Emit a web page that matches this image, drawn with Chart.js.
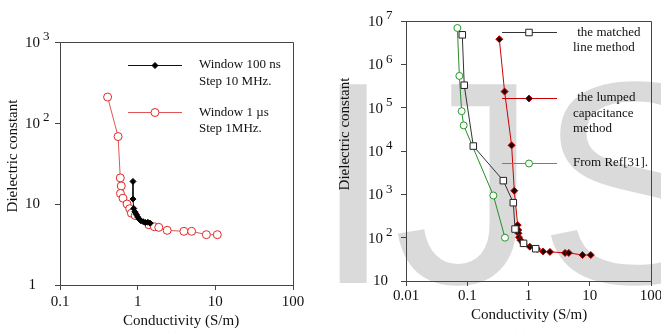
<!DOCTYPE html>
<html lang="en">
<head>
    <meta charset="UTF-8">
    <title>Dielectric constant vs conductivity</title>
    <script src="https://cdn.jsdelivr.net/npm/chart.js@4/dist/chart.umd.min.js"></script>
    <style>
        html, body { margin: 0; padding: 0; background: #fff; overflow: hidden; }
        #wrap { position: relative; width: 661px; height: 333px; }
        canvas { position: absolute; top: 0; }
        #chartA { left: 0; }
        #chartB { left: 330px; }
    </style>
</head>
<body>
<div id="wrap">
    <canvas id="chartA" width="330" height="333"></canvas>
    <canvas id="chartB" width="331" height="333"></canvas>
</div>
<script>
    // (a) left panel
    let aTicksX = [0.1, 1, 10, 100];
    let aTickLabelsX = ['0.1', '1', '10', '100'];
    let aTicksY = [1, 10, 100, 1000];

    let aWin1usX = [0.41, 0.56, 0.597, 0.615, 0.60, 0.647, 0.73, 0.79, 0.83, 0.93, 1.39, 1.64, 1.87, 2.4, 3.94, 4.95, 7.67, 10.6];
    let aWin1usY = [209, 68, 21, 16.7, 13.5, 11.8, 10, 8.75, 7.7, 7.2, 5.55, 5.24, 5.15, 4.73, 4.6, 4.6, 4.18, 4.18];

    let aWin100nsX = [0.87, 0.87, 0.89, 0.92, 0.96, 1.0, 1.05, 1.1, 1.18, 1.26, 1.35, 1.45];
    let aWin100nsY = [19, 11.5, 8.8, 8.0, 7.4, 6.9, 6.5, 6.2, 6.05, 5.9, 5.95, 5.8];

    // (b) right panel
    let bTicksX = [0.01, 0.1, 1, 10, 100];
    let bTickLabelsX = ['0.01', '0.1', '1', '10', '100'];
    let bTicksY = [10, 100, 1e3, 1e4, 1e5, 1e6, 1e7];

    let bMatchedX = [0.083, 0.0893, 0.1256, 0.388, 0.565, 0.603, 0.83, 1.31];
    let bMatchedY = [4.8e6, 3.3e5, 1.3e4, 2070, 641, 158, 74, 55.6];

    let bLumpedX = [0.334, 0.407, 0.53, 0.586, 0.666, 0.68, 0.685, 0.70, 0.735, 0.82, 1.05, 1.38, 1.73, 2.24, 3.96, 4.55, 7.6, 10.4];
    let bLumpedY = [3.8e6, 2.35e5, 1.35e4, 1210, 195, 150, 126, 102, 88, 74, 62, 55, 48, 47, 44.5, 44.5, 39.8, 39.8];

    let bRef31X = [0.069, 0.0743, 0.081, 0.0875, 0.267, 0.413];
    let bRef31Y = [6.9e6, 5.4e5, 8.3e4, 3.9e4, 940, 100];

    let pts = (xs, ys) => xs.map((x, i) => ({x: x, y: ys[i]}));
    let serif = '"Liberation Serif", "Times New Roman", serif';
    let axisColor = '#444';

    // frame, tick labels, titles, legend
    let panelDeco = {
        id: 'panelDeco',
        beforeDraw(chart, args, o) {
            if (!o.watermark) return;
            let ctx = chart.ctx;
            ctx.save();
            ctx.fillStyle = '#dadada';
            ctx.font = '289px "Liberation Sans", Arial, sans-serif';
            ctx.textBaseline = 'alphabetic';
            ctx.fillText('IJS', o.watermark[0], o.watermark[1]);
            ctx.restore();
        },
        afterDraw(chart, args, o) {
            let ctx = chart.ctx;
            let a = chart.chartArea;
            let sx = chart.scales.x, sy = chart.scales.y;
            ctx.save();
            ctx.strokeStyle = axisColor;
            ctx.lineWidth = 1;
            let l = Math.round(a.left) + 0.5, t = Math.round(a.top) + 0.5;
            let r = Math.round(a.right) + 0.5, b = Math.round(a.bottom) + 0.5;
            ctx.beginPath();
            ctx.moveTo(l, t); ctx.lineTo(r, t); ctx.lineTo(r, b);
            ctx.stroke();

            ctx.fillStyle = '#111';
            // x tick labels
            ctx.font = '15px ' + serif;
            ctx.textAlign = 'center';
            ctx.textBaseline = 'middle';
            o.xTicks.forEach((v, i) => {
                ctx.fillText(o.xLabels[i], sx.getPixelForValue(v), o.xLabelY);
            });
            // y tick labels with raised exponent
            o.yTicks.forEach(v => {
                let e = Math.round(Math.log10(v));
                let py = sy.getPixelForValue(v);
                ctx.textBaseline = 'middle';
                if (e >= 2) {
                    ctx.font = '15px ' + serif;
                    ctx.textAlign = 'right';
                    ctx.fillText('10', a.left - o.baseOff, py + 1);
                    ctx.font = '13px ' + serif;
                    ctx.textAlign = 'left';
                    ctx.fillText(String(e), a.left - o.baseOff + 3, py - 5);
                } else {
                    ctx.font = '15px ' + serif;
                    ctx.textAlign = 'right';
                    ctx.fillText(String(v), a.left - (e === 0 ? o.oneOff : o.plainOff), py);
                }
            });
            // axis titles
            ctx.font = '15px ' + serif;
            ctx.textAlign = 'center';
            ctx.fillText('Conductivity (S/m)', o.xTitle[0], o.xTitle[1]);
            ctx.save();
            ctx.translate(o.yTitle[0], o.yTitle[1]);
            ctx.rotate(-Math.PI / 2);
            ctx.fillText('Dielectric constant', 0, 0);
            ctx.restore();
            // panel tag, mostly cut off at the bottom
            ctx.fillText(o.tag[0], o.tag[1], o.tag[2]);

            // legend
            o.legend.forEach(item => {
                let ds = chart.data.datasets[item.ds];
                ctx.strokeStyle = item.line;
                ctx.lineWidth = 1;
                ctx.beginPath();
                ctx.moveTo(item.x0, item.y + 0.5);
                ctx.lineTo(item.x1, item.y + 0.5);
                ctx.stroke();
                ctx.fillStyle = ds.pointBackgroundColor;
                ctx.strokeStyle = ds.pointBorderColor;
                Chart.helpers.drawPoint(ctx, {
                    pointStyle: ds.pointStyle,
                    radius: ds.pointRadius,
                    borderWidth: 1,
                    rotation: 0
                }, item.mx, item.y + 0.5);
                ctx.fillStyle = '#111';
                ctx.font = '13px ' + serif;
                ctx.textAlign = 'left';
                ctx.textBaseline = 'middle';
                item.text.forEach(s => {
                    ctx.fillText(s[0], s[1], s[2]);
                });
            });
            ctx.restore();
        }
    };

    let logAxis = (min, max, ticks) => ({
        type: 'logarithmic',
        min: min,
        max: max,
        afterBuildTicks: axis => { axis.ticks = ticks.map(v => ({value: v})); },
        ticks: { display: false },
        grid: { drawOnChartArea: false, drawTicks: true, tickLength: 5, color: axisColor },
        border: { color: axisColor, width: 1 },
        title: { display: false }
    });

    let baseOptions = (pad, xr, yr) => ({
        responsive: false,
        animation: false,
        devicePixelRatio: 1,
        layout: { padding: pad, autoPadding: false },
        plugins: { legend: { display: false }, tooltip: { enabled: false } },
        scales: { x: xr, y: yr }
    });

    // ---- chart (a)
    let optA = baseOptions({left: 55, top: 42, right: 37, bottom: 43},
        logAxis(0.1, 100, aTicksX), logAxis(1, 1000, aTicksY));
    optA.plugins.panelDeco = {
        xTicks: aTicksX, xLabels: aTickLabelsX, xLabelY: 302,
        yTicks: aTicksY, baseOff: 20, plainOff: 20, oneOff: 24,
        xTitle: [181, 321], yTitle: [13, 156], tag: ['(a)', 172, 339],
        legend: [
            {ds: 0, line: '#111', x0: 128, x1: 182, mx: 155, y: 65,
                text: [['Window 100 ns', 199, 65], ['Step 10 MHz.', 199, 82]]},
            {ds: 1, line: 'rgb(225,85,85)', x0: 128, x1: 182, mx: 155, y: 112,
                text: [['Window 1 \u00b5s', 199, 113], ['Step 1MHz.', 199, 129]]}
        ]
    };

    new Chart(document.getElementById('chartA'), {
        type: 'scatter',
        data: {
            datasets: [
                {
                    label: 'Window 100 ns',
                    data: pts(aWin100nsX, aWin100nsY),
                    showLine: true, tension: 0, order: 0,
                    borderColor: '#111', borderWidth: 1,
                    pointStyle: 'rectRot', pointRadius: 3,
                    pointBackgroundColor: '#000', pointBorderColor: '#000', pointBorderWidth: 1
                },
                {
                    label: 'Window 1 \u00b5s',
                    data: pts(aWin1usX, aWin1usY),
                    showLine: true, tension: 0, order: 1,
                    borderColor: 'rgb(225,85,85)', borderWidth: 1,
                    pointStyle: 'circle', pointRadius: 4,
                    pointBackgroundColor: '#fff', pointBorderColor: 'rgb(225,40,40)', pointBorderWidth: 1
                }
            ]
        },
        options: optA,
        plugins: [panelDeco]
    });

    // ---- chart (b)
    let optB = baseOptions({left: 71, top: 21, right: 10, bottom: 47},
        logAxis(0.01, 100, bTicksX), logAxis(10, 1e7, bTicksY));
    optB.plugins.panelDeco = {
        watermark: [-17, 283],
        xTicks: bTicksX, xLabels: bTickLabelsX, xLabelY: 296,
        yTicks: bTicksY, baseOff: 23, plainOff: 18, oneOff: 24,
        xTitle: [199, 315], yTitle: [15, 134], tag: ['(b)', 190, 339],
        legend: [
            {ds: 0, line: '#333', x0: 172, x1: 227, mx: 199, y: 32,
                text: [[' the matched', 244, 33], ['line method', 243, 48]]},
            {ds: 1, line: '#cc0000', x0: 172, x1: 227, mx: 199, y: 98,
                text: [[' the lumped', 244, 98], ['capacitance', 243, 114], ['method', 243, 129]]},
            {ds: 2, line: 'rgb(70,160,70)', x0: 172, x1: 227, mx: 199, y: 163,
                text: [['From Ref[31].', 243, 163]]}
        ]
    };

    new Chart(document.getElementById('chartB'), {
        type: 'scatter',
        data: {
            datasets: [
                {
                    label: 'the matched line method',
                    data: pts(bMatchedX, bMatchedY),
                    showLine: true, tension: 0, order: 0,
                    borderColor: '#333', borderWidth: 1,
                    pointStyle: 'rect', pointRadius: 4.6,
                    pointBackgroundColor: '#fff', pointBorderColor: '#222', pointBorderWidth: 1
                },
                {
                    label: 'the lumped capacitance method',
                    data: pts(bLumpedX, bLumpedY),
                    showLine: true, tension: 0, order: 1,
                    borderColor: '#cc0000', borderWidth: 1,
                    pointStyle: 'rectRot', pointRadius: 3.5,
                    pointBackgroundColor: '#200', pointBorderColor: '#cc0000', pointBorderWidth: 1
                },
                {
                    label: 'From Ref[31].',
                    data: pts(bRef31X, bRef31Y),
                    showLine: true, tension: 0, order: 2,
                    borderColor: 'rgb(40,140,40)', borderWidth: 1,
                    pointStyle: 'circle', pointRadius: 3.5,
                    pointBackgroundColor: '#fff', pointBorderColor: 'rgb(40,150,40)', pointBorderWidth: 1
                }
            ]
        },
        options: optB,
        plugins: [panelDeco]
    });
</script>
</body>
</html>
